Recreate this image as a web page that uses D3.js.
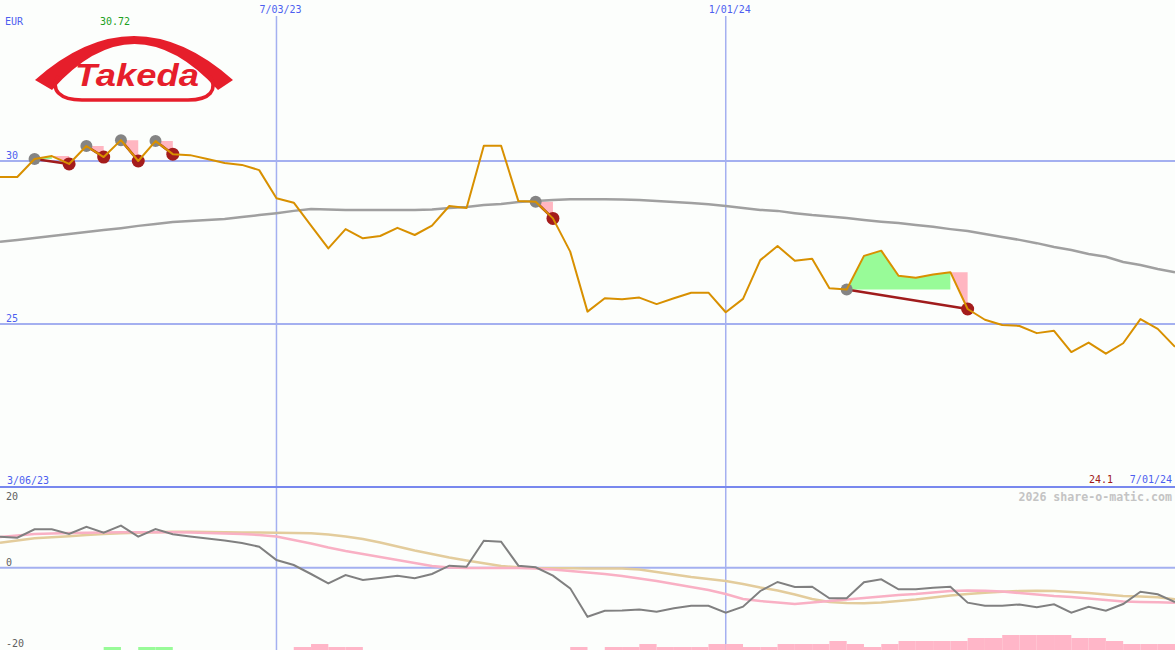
<!DOCTYPE html>
<html><head><meta charset="utf-8">
<script src="https://cdn.jsdelivr.net/npm/d3@7"></script>
<style>
html,body{margin:0;padding:0;background:#fcfefc;overflow:hidden}
svg{display:block}
text{font-family:"DejaVu Sans Mono",monospace;font-size:10px}
</style></head>
<body>
<svg id="c" width="1175" height="650"></svg>
<script>
// ---------- data ----------
const startDate = new Date(2023, 2, 13);
const endDate = new Date(2024, 6, 1);
const price = [29.51,29.51,30.06,30.15,29.91,30.46,30.12,30.64,30.00,30.61,
  30.21,30.18,30.06,29.94,29.88,29.72,28.86,28.72,28.02,27.32,
  27.91,27.63,27.70,27.95,27.73,28.02,28.62,28.56,30.47,30.47,
  28.77,28.75,28.24,27.22,25.38,25.79,25.76,25.81,25.61,25.79,
  25.96,25.96,25.36,25.77,26.96,27.39,26.94,27.00,26.10,26.06,
  27.09,27.25,26.48,26.42,26.52,26.59,25.46,25.13,24.97,24.94,
  24.72,24.79,24.14,24.43,24.09,24.41,25.15,24.85,24.30];
const movingAvg = [27.52,27.58,27.64,27.70,27.76,27.82,27.88,27.94,28.01,28.07,
  28.13,28.16,28.19,28.22,28.28,28.34,28.40,28.47,28.53,28.51,
  28.50,28.50,28.50,28.50,28.50,28.51,28.56,28.59,28.65,28.68,
  28.74,28.77,28.80,28.83,28.83,28.83,28.82,28.80,28.77,28.74,
  28.71,28.67,28.62,28.56,28.50,28.47,28.40,28.34,28.30,28.25,
  28.19,28.14,28.10,28.04,27.98,27.91,27.85,27.76,27.67,27.58,
  27.48,27.36,27.27,27.15,27.06,26.90,26.81,26.69,26.59];
const momentum = [7.68,7.43,9.52,9.52,8.35,10.16,8.67,10.41,7.68,9.59,
  8.28,7.73,7.24,6.74,6.12,5.20,1.91,0.67,-1.56,-3.87,
  -1.81,-3.05,-2.55,-1.98,-2.63,-1.56,0.50,0.25,6.69,6.44,
  0.50,0.10,-1.98,-5.11,-12.14,-10.66,-10.61,-10.36,-10.90,-10.06,
  -9.42,-9.42,-11.15,-9.67,-5.77,-3.54,-4.78,-4.71,-7.58,-7.58,
  -3.62,-2.87,-5.35,-5.35,-4.96,-4.71,-8.67,-9.42,-9.42,-9.12,
  -9.81,-9.07,-11.15,-9.67,-10.66,-9.00,-5.95,-6.59,-8.50];
const signalPink = [7.61,7.98,8.35,8.48,8.60,8.67,8.72,8.77,8.77,8.77,
  8.77,8.72,8.60,8.48,8.35,8.10,7.73,6.86,6.00,5.01,
  4.14,3.40,2.65,1.91,1.16,0.42,0.05,-0.07,-0.07,-0.07,
  -0.07,-0.20,-0.45,-0.82,-1.19,-1.56,-2.06,-2.68,-3.30,-4.04,
  -4.78,-5.53,-6.52,-7.76,-8.25,-8.62,-9.00,-8.62,-8.25,-7.88,
  -7.51,-7.14,-6.77,-6.52,-6.15,-5.77,-5.65,-5.70,-5.90,-6.27,
  -6.64,-7.01,-7.26,-7.63,-8.00,-8.38,-8.50,-8.58,-8.67];
const signalTan = [6.20,6.74,7.29,7.53,7.78,8.10,8.35,8.53,8.67,8.80,
  8.90,8.92,8.85,8.80,8.75,8.70,8.65,8.60,8.53,8.23,
  7.73,7.11,6.25,5.25,4.26,3.40,2.53,1.78,1.09,0.42,
  0.10,-0.07,-0.12,-0.15,-0.17,-0.20,-0.22,-0.45,-1.07,-1.69,
  -2.30,-2.80,-3.30,-4.04,-4.91,-5.65,-6.64,-7.76,-8.50,-8.75,
  -8.82,-8.62,-8.25,-7.88,-7.39,-6.89,-6.52,-6.22,-5.97,-5.77,
  -5.72,-5.77,-6.02,-6.27,-6.64,-7.01,-7.14,-7.34,-7.83];
const histogram = [0,0,0,0,0,0,1,0,1,1,
  0,0,0,0,0,0,0,-1,-2,-1,
  -1,0,0,0,0,0,0,0,0,0,
  0,0,0,-1,0,-1,-1,-2,-1,-1,
  -1,-2,-2,-1,-1,-2,-2,-2,-3,-2,
  -1,-2,-3,-3,-3,-3,-4,-4,-5,-5,
  -5,-5,-4,-4,-3,-2,-2,-2,-2];
// signal pairs: [grey marker index, red marker index]
const signalPairs = [[2,4],[5,6],[7,8],[9,10],[31,32],[49,56]];
const priceTicks = [30, 25];
const lowerTicks = [20, 0, -20];
const dateTicks = [new Date(2023, 6, 3), new Date(2024, 0, 1)];
const currency = "EUR", highLabel = "30.72", lastLabel = "24.1";
const firstDateLabel = "3/06/23", lastDateLabel = "7/01/24";
const watermark = "2026 share-o-matic.com";

// ---------- setup ----------
const W = 1175, H = 650;
const dates = d3.timeMonday.range(startDate, d3.timeDay.offset(endDate, 1));
const svg = d3.select("#c");
const x = d3.scaleTime().domain([startDate, endDate]).range([0, W]);
const y = d3.scaleLinear().domain([20, 35]).range([487, -2]);
const yL = d3.scaleLinear().domain([-20, 20]).range([648.4, 487]);
const hy = d3.scaleLinear().domain([0, 5]).range([0, 15]);
const fmt = d3.timeFormat("%-m/%d/%y");
const xi = i => x(dates[i]);

svg.append("rect").attr("width", W).attr("height", H).attr("fill", "#fcfefc");

// clip paths
svg.append("clipPath").attr("id", "top").append("rect").attr("x",0).attr("y",0).attr("width",W).attr("height",487);
svg.append("clipPath").attr("id", "bot").append("rect").attr("x",0).attr("y",488).attr("width",W).attr("height",H-488);

// ---------- gridlines ----------
const grid = svg.append("g");
grid.selectAll("line.h").data(priceTicks).join("line")
  .attr("x1", 0).attr("x2", W).attr("y1", d => y(d)).attr("y2", d => y(d))
  .attr("stroke", "#a4b0f0").attr("stroke-width", 2);
grid.append("line").attr("x1", 0).attr("x2", W).attr("y1", yL(0)).attr("y2", yL(0))
  .attr("stroke", "#a4b0f0").attr("stroke-width", 2);
grid.selectAll("line.v").data(dateTicks).join("line")
  .attr("x1", d => x(d)).attr("x2", d => x(d)).attr("y1", 16).attr("y2", H)
  .attr("stroke", "#a4b0f0").attr("stroke-width", 1.5);
grid.append("line").attr("x1", 0).attr("x2", W).attr("y1", 487).attr("y2", 487)
  .attr("stroke", "#7888ee").attr("stroke-width", 2);

// ---------- logo ----------
const logo = svg.append("g");
logo.append("path").attr("d", "M35,80 Q134,-8 233,80 L218,90 Q134,-2 52,90 Z").attr("fill", "#e61e2b");
logo.append("path").attr("d", "M58,76 C50,90 60,100 82,100 L188,100 C210,100 218,90 210,76")
  .attr("fill", "none").attr("stroke", "#e61e2b").attr("stroke-width", 3.5);
logo.append("text").attr("x", 137).attr("y", 86).attr("text-anchor", "middle")
  .attr("textLength", 124).attr("lengthAdjust", "spacingAndGlyphs")
  .style("font-family", "'Liberation Sans', Arial, sans-serif").style("font-size", "31px")
  .style("font-weight", "bold").style("font-style", "italic").attr("fill", "#e61e2b").text("Takeda");

// ---------- main panel ----------
const main = svg.append("g").attr("clip-path", "url(#top)");
// green/pink divergence fills
signalPairs.forEach(([g, r]) => {
  const level = price[g];
  const idx = d3.range(g, r);
  main.append("path").datum(idx)
    .attr("d", d3.area().x(i => xi(i)).y0(y(level)).y1(i => y(Math.max(price[i], level)))(idx))
    .attr("fill", "#98fb98");
  const tri = [[xi(r-1), y(price[r-1])], [xi(r), y(price[r-1])], [xi(r), y(price[r])]];
  main.append("path").attr("d", d3.line()(tri) + "Z").attr("fill", "#ffb6c1");
});
// moving average
main.append("path").datum(movingAvg)
  .attr("d", d3.line().x((d, i) => xi(i)).y(d => y(d)))
  .attr("fill", "none").attr("stroke", "#a0a0a0").attr("stroke-width", 2.5);
// pair lines
main.selectAll("line.pair").data(signalPairs).join("line")
  .attr("x1", d => xi(d[0])).attr("y1", d => y(price[d[0]]))
  .attr("x2", d => xi(d[1])).attr("y2", d => y(price[d[1]]))
  .attr("stroke", "#a01c1c").attr("stroke-width", 2.5);
// markers
main.selectAll("circle.g").data(signalPairs).join("circle")
  .attr("cx", d => xi(d[0])).attr("cy", d => y(price[d[0]])).attr("r", 6).attr("fill", "#848484");
main.selectAll("circle.r").data(signalPairs).join("circle")
  .attr("cx", d => xi(d[1])).attr("cy", d => y(price[d[1]])).attr("r", 6.5).attr("fill", "#a41c1c");
// price line
main.append("path").datum(price)
  .attr("d", d3.line().x((d, i) => xi(i)).y(d => y(d)))
  .attr("fill", "none").attr("stroke", "#d89000").attr("stroke-width", 2).attr("stroke-linejoin", "round");

// ---------- lower panel ----------
const low = svg.append("g").attr("clip-path", "url(#bot)");
low.selectAll("rect.h").data(histogram.map((v, i) => ({v, i})).filter(d => d.v !== 0)).join("rect")
  .attr("x", d => xi(d.i)).attr("width", d => xi(d.i + 1 < dates.length ? d.i + 1 : d.i) - xi(d.i) || 17.3)
  .attr("y", d => H - hy(Math.abs(d.v))).attr("height", d => hy(Math.abs(d.v)))
  .attr("fill", d => d.v > 0 ? "#98fb98" : "#ffb6c8");
const lline = d3.line().x((d, i) => xi(i)).y(d => yL(d));
low.append("path").datum(signalTan).attr("d", lline).attr("fill", "none").attr("stroke", "#e3cc9c").attr("stroke-width", 2.5);
low.append("path").datum(signalPink).attr("d", lline).attr("fill", "none").attr("stroke", "#f9b0c4").attr("stroke-width", 2.5);
low.append("path").datum(momentum).attr("d", lline).attr("fill", "none").attr("stroke", "#808080").attr("stroke-width", 2);

// ---------- text ----------
const T = svg.append("g");
T.append("text").attr("x", 5).attr("y", 25).attr("fill", "#4d5ef0").text(currency);
T.append("text").attr("x", 100).attr("y", 25).attr("fill", "#20a020").text(highLabel);
T.selectAll("text.pt").data(priceTicks).join("text")
  .attr("x", 6).attr("y", d => y(d) - 2).attr("fill", "#4d5ef0").text(d => d);
T.selectAll("text.dt").data(dateTicks).join("text")
  .attr("x", d => x(d) + 4).attr("y", 13).attr("text-anchor", "middle").attr("fill", "#4d5ef0").text(d => fmt(d));
T.append("text").attr("x", 7).attr("y", 484).attr("fill", "#4d5ef0").text(firstDateLabel);
T.append("text").attr("x", 1113).attr("y", 483).attr("text-anchor", "end").attr("fill", "#a01818").text(lastLabel);
T.append("text").attr("x", 1172).attr("y", 483).attr("text-anchor", "end").attr("fill", "#4d5ef0").text(lastDateLabel);
T.append("text").attr("x", 1172).attr("y", 501).attr("text-anchor", "end").attr("fill", "#c4c4c4")
  .style("font-size", "11.6px").style("font-weight", "bold").text(watermark);
T.selectAll("text.lt").data(lowerTicks).join("text")
  .attr("x", 6).attr("y", d => d === 20 ? 500 : d === -20 ? 647 : yL(d) - 2).attr("fill", "#606060").text(d => d);
</script>
</body></html>
